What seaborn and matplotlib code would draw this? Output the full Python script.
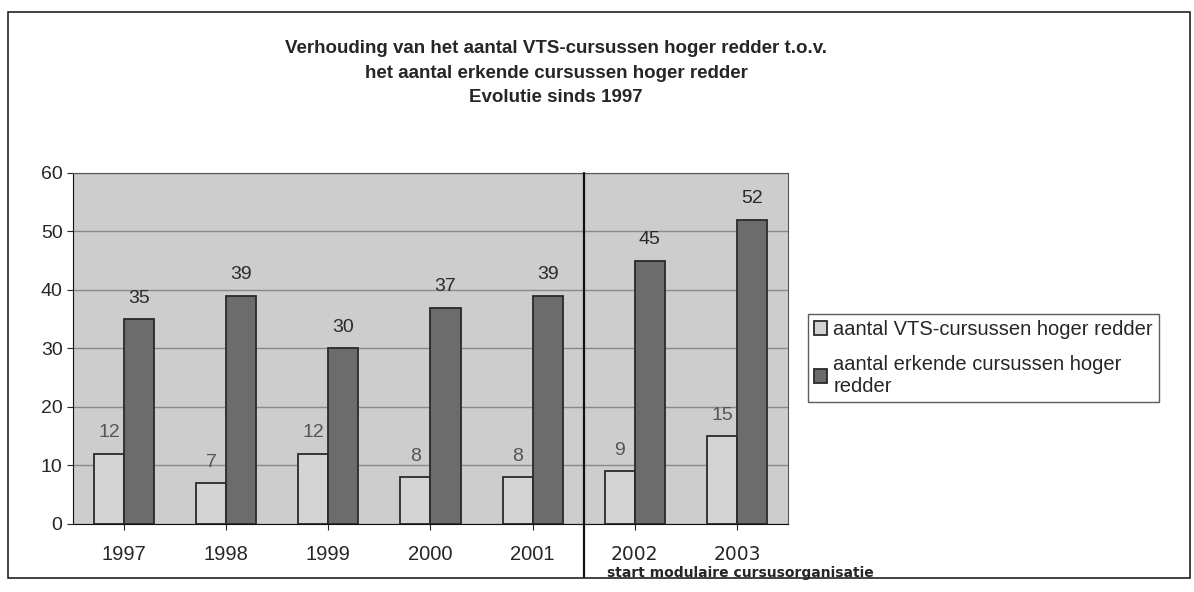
import pandas as pd
import matplotlib.pyplot as plt
import seaborn as sns
from matplotlib.patches import Rectangle

# data
years = ['1997', '1998', '1999', '2000', '2001', '2002', '2003']
vts_cursussen = [12, 7, 12, 8, 8, 9, 15]
erkende_cursussen = [35, 39, 30, 37, 39, 45, 52]
series_names = ['aantal VTS-cursussen hoger redder',
                'aantal erkende cursussen hoger redder']
legend_labels = ['aantal VTS-cursussen hoger redder',
                 'aantal erkende cursussen hoger\nredder']

df = pd.DataFrame({
    'jaar': years * 2,
    'reeks': [series_names[0]] * len(years) + [series_names[1]] * len(years),
    'aantal': vts_cursussen + erkende_cursussen,
})

sns.set_style('white')
plt.rcParams['font.family'] = ['Liberation Sans', 'DejaVu Sans']

fig = plt.figure(figsize=(11.94, 5.92), dpi=100)
ax = fig.add_axes([0.0611, 0.1149, 0.5989, 0.5929])
ax.set_facecolor('#cdcdcd')

sns.barplot(data=df, x='jaar', y='aantal', hue='reeks', order=years,
            hue_order=series_names, palette=['#d4d4d4', '#6c6c6c'],
            width=0.59, edgecolor='#2a2a2a', linewidth=1.3, ax=ax,
            zorder=3)

# waarden boven de staven
label_colors = ['#555555', '#2a2a2a']
for cont, col in zip(ax.containers, label_colors):
    ax.bar_label(cont, padding=9, fontsize=14, color=col)

ax.set_ylim(0, 60)
ax.set_yticks(range(0, 61, 10))
ax.yaxis.grid(True, color='#8a8a8a', linewidth=1.0, zorder=0)
ax.set_axisbelow(True)
ax.set_xlabel('')
ax.set_ylabel('')
ax.tick_params(axis='y', labelsize=14, length=4, direction='out', left=True)
ax.tick_params(axis='x', labelsize=14.5, length=4, direction='out', bottom=True, pad=11)
for s in ['top', 'right']:
    ax.spines[s].set_color('#555555')
    ax.spines[s].set_linestyle((0, (2, 1)))
ax.spines['left'].set_color('#111111')
ax.spines['bottom'].set_color('#111111')

# 2002/2003 in ander lettertype
for lbl in ax.get_xticklabels()[5:]:
    lbl.set_family('DejaVu Sans')
    lbl.set_fontsize(13.5)

# scheiding modulaire cursusorganisatie
ax.axvline(4.5, ymin=-0.15, ymax=1, color='#111111', linewidth=1.6,
           clip_on=False, zorder=4)
fig.text(607 / 1194, 1 - 573 / 592, 'start modulaire cursusorganisatie',
         family='DejaVu Sans', fontsize=10, fontweight='bold', va='center')

# titel
fig.text(556 / 1194, 1 - 73 / 592,
         'Verhouding van het aantal VTS-cursussen hoger redder t.o.v.\n'
         'het aantal erkende cursussen hoger redder\nEvolutie sinds 1997',
         ha='center', va='center', fontsize=13.5, fontweight='bold',
         linespacing=1.6)

# legenda
handles, _ = ax.get_legend_handles_labels()
ax.legend(handles, legend_labels, loc='upper left',
          bbox_to_anchor=(808 / 1194, 1 - 314 / 592),
          bbox_transform=fig.transFigure, fontsize=14.5, frameon=True,
          fancybox=False, edgecolor='#333333', handlelength=0.65,
          handleheight=0.65, handletextpad=0.3, labelspacing=0.8,
          borderpad=0.3, borderaxespad=0)
ax.get_legend().get_frame().set_linewidth(1.0)

# kader rond de figuur
fig.patches.append(Rectangle((8 / 1194, 1 - 578 / 592), 1182 / 1194, 566 / 592,
                             transform=fig.transFigure, fill=False,
                             edgecolor='#222222', linewidth=1.2))

plt.savefig('out.png', dpi=100)
